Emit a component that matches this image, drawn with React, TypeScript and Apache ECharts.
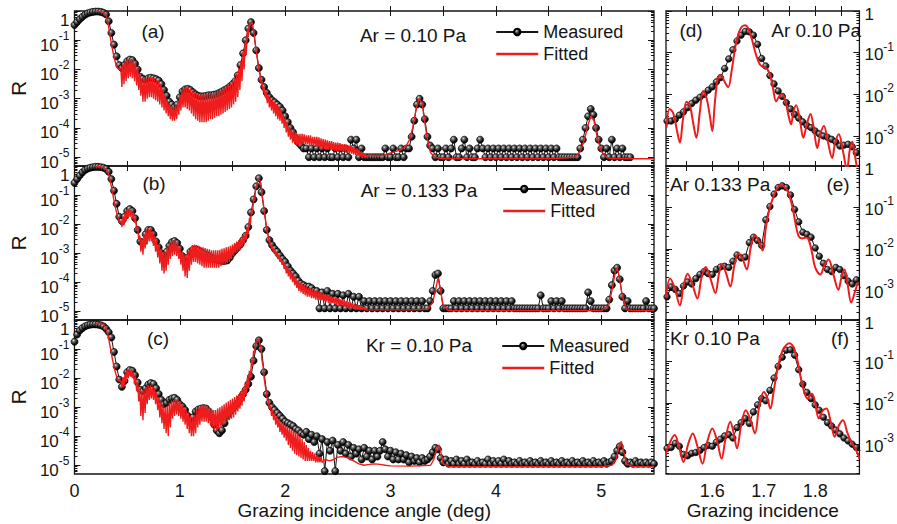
import React, { useEffect, useRef } from "react";
import * as echarts from "echarts";

const FONT = '"Liberation Sans", Arial, Helvetica, sans-serif';
const INK = "#151515";
const RED = "#ee1c1c";

// ---------- axis ranges (log10 R) ----------
const LEFT_X_RANGE = [0, 5.5];
const RIGHT_X_RANGE = [1.51, 1.886];
const LEFT_Y_RANGE = [-5.3, 0];
const RIGHT_Y_RANGE = [-3.72, 0];
const LEFT_X_TICKS = [0.5, 1, 1.5, 2, 2.5, 3, 3.5, 4, 4.5, 5];
const LEFT_X_LABELS = [0, 1, 2, 3, 4, 5];
const RIGHT_X_TICKS = [1.55, 1.6, 1.65, 1.7, 1.75, 1.8, 1.85];
const RIGHT_X_LABELS = [1.6, 1.7, 1.8];

// ---------- measured scans, panels (a)-(c): log10 R, x = 0, 0.025, 0.05 ... ----------
const SCAN_START = 0;
const SCAN_STEP = 0.025;

const measuredA = [
  -0.48, -0.38, -0.28, -0.2, -0.13, -0.08, -0.05, -0.03, -0.02, -0.02,
  -0.03, -0.06, -0.12, -0.35, -0.75, -1.15, -1.55, -1.85, -1.95, -1.85,
  -1.72, -1.66, -1.68, -1.8, -2.0, -2.25, -2.32, -2.35, -2.3, -2.28,
  -2.3, -2.33, -2.38, -2.5, -2.7, -2.9, -3.1, -3.2, -3.28, -3.2,
  -2.95, -2.75, -2.68, -2.66, -2.7, -2.78, -2.85, -2.9, -2.92, -2.92,
  -2.9, -2.88, -2.88, -2.86, -2.84, -2.8, -2.75, -2.7, -2.65, -2.58,
  -2.5, -2.4, -2.2, -1.85, -1.45, -1.0, -0.6, -0.38, -0.75, -1.35,
  -1.95, -2.35, -2.6, -2.8, -2.95, -3.05, -3.12, -3.2, -3.28, -3.4,
  -3.6, -3.8, -4.0, -4.15, -4.35, -4.5, -4.6, -4.7, -4.7, -5.0,
  -4.7, -5.0, -4.7, -5.0, -4.7, -5.0, -4.7, -5.0, -5.0, -4.7,
  -5.0, -4.7, -5.0, -4.7, -5.0, -4.4, -4.7, -4.4, -5.0, -4.7,
  -5.0, -5.0, -5.0, -5.0, -5.0, -5.0, -5.0, -5.0, -4.7, -5.0,
  -5.0, -4.7, -5.0, -5.0, -4.7, -5.0, -4.7, -4.7, -4.3, -3.75,
  -3.2, -3.0, -3.2, -3.7, -4.3, -4.6, -4.7, -5.0, -4.7, -5.0,
  -5.0, -4.7, -5.0, -4.7, -4.4, -5.0, -5.0, -4.7, -4.4, -5.0,
  -4.7, -5.0, -5.0, -4.7, -4.4, -4.7, -5.0, -4.7, -5.0, -4.7,
  -5.0, -4.7, -5.0, -4.7, -5.0, -4.7, -5.0, -4.7, -5.0, -4.7,
  -5.0, -4.7, -5.0, -4.7, -5.0, -4.7, -5.0, -4.7, -5.0, -4.7,
  -5.0, -4.7, -5.0, -4.7, -5.0, -5.0, -5.0, -5.0, -5.0, -5.0,
  -5.0, -5.0, -4.7, -4.4, -4.0, -3.6, -3.35, -3.55, -4.0, -4.4,
  -4.7, -5.0, -4.7, -5.0, -4.4, -5.0, -4.7, -5.0, -4.7, -5.0,
  -5.0, -5.0,
];

const measuredB = [
  -0.58, -0.45, -0.33, -0.22, -0.14, -0.09, -0.06, -0.04, -0.03, -0.03,
  -0.04, -0.06, -0.1, -0.2, -0.45, -0.85, -1.3, -1.75, -1.9, -1.75,
  -1.55, -1.48, -1.55, -1.8, -2.2, -2.6, -2.65, -2.35, -2.2, -2.2,
  -2.35, -2.6, -2.8, -3.0, -3.05, -2.95, -2.75, -2.62, -2.58, -2.65,
  -2.85, -3.1, -3.2, -3.15, -2.95, -2.88, -2.87, -2.9, -2.95, -3.0,
  -3.05, -3.1, -3.15, -3.2, -3.22, -3.25, -3.27, -3.27, -3.25, -3.15,
  -3.0, -2.9, -2.8, -2.7, -2.55, -2.4, -2.1, -1.6, -1.15, -0.7,
  -0.42, -0.9, -1.55, -2.2, -2.55, -2.72, -2.85, -2.95, -3.08, -3.2,
  -3.3, -3.45, -3.6, -3.7, -3.8, -3.95, -4.05, -4.1, -4.15, -4.15,
  -4.2, -4.3, -4.3, -4.9, -4.35, -4.9, -4.3, -4.9, -4.4, -4.9,
  -4.4, -4.9, -4.45, -4.9, -4.4, -4.9, -4.5, -4.9, -4.5, -4.9,
  -4.65, -4.9, -4.65, -4.9, -4.65, -4.9, -4.65, -4.9, -4.65, -4.9,
  -4.65, -4.9, -4.65, -4.9, -4.65, -4.9, -4.65, -4.9, -4.65, -4.9,
  -4.65, -4.9, -4.65, -4.9, -4.9, -4.65, -4.3, -3.75, -3.7, -4.3,
  -4.9, -4.9, -4.9, -4.9, -4.65, -4.9, -4.65, -4.9, -4.65, -4.9,
  -4.65, -4.9, -4.65, -4.9, -4.65, -4.9, -4.65, -4.9, -4.65, -4.9,
  -4.65, -4.9, -4.65, -4.9, -4.65, -4.9, -4.65, -4.9, -4.9, -4.9,
  -4.9, -4.9, -4.9, -4.9, -4.9, -4.9, -4.9, -4.45, -4.9, -4.9,
  -4.9, -4.65, -4.9, -4.65, -4.9, -4.65, -4.9, -4.9, -4.9, -4.9,
  -4.9, -4.9, -4.9, -4.9, -4.9, -4.35, -4.65, -4.9, -4.9, -4.9,
  -4.9, -4.9, -4.9, -4.6, -4.1, -3.6, -3.5, -3.9, -4.5, -4.9,
  -4.65, -4.9, -4.9, -4.9, -4.9, -4.9, -4.9, -4.65, -4.9, -4.9,
  -4.9,
];

const measuredC = [
  -0.75, -0.5, -0.36, -0.28, -0.22, -0.18, -0.16, -0.15, -0.15, -0.16,
  -0.18, -0.22, -0.3, -0.42, -0.6, -1.1, -1.6, -2.05, -2.3, -2.1,
  -1.8, -1.72, -1.75, -1.9, -2.15, -2.4, -2.45, -2.35, -2.22, -2.17,
  -2.2, -2.35, -2.55, -2.75, -2.9, -2.85, -2.75, -2.7, -2.68, -2.75,
  -2.9, -2.98, -3.1, -3.3, -3.44, -3.35, -3.15, -3.08, -3.05, -3.03,
  -3.05, -3.15, -3.35, -3.6, -3.8, -3.9, -3.8, -3.55, -3.3, -3.15,
  -3.05, -2.95, -2.85, -2.7, -2.55, -2.4, -2.2, -1.95, -1.4, -0.9,
  -0.7, -1.0, -1.8, -2.55, -2.85, -3.0, -3.1, -3.2, -3.3, -3.4,
  -3.5, -3.55, -3.6, -3.65, -3.75, -3.8, -3.9, -3.95, -3.85, -4.1,
  -3.95, -4.2, -4.0, -4.6, -4.1, -5.2, -4.2, -4.5, -4.15, -5.2,
  -4.3, -4.5, -4.2, -4.6, -4.3, -4.7, -4.4, -4.6, -4.45, -4.8,
  -4.4, -4.7, -4.5, -4.8, -4.5, -4.7, -4.5, -4.2, -4.45, -4.7,
  -4.5, -4.8, -4.55, -4.8, -4.6, -4.8, -4.65, -4.9, -4.7, -4.85,
  -4.75, -4.9, -4.75, -4.85, -4.8, -4.7, -4.55, -4.4, -4.45, -4.75,
  -4.9, -4.8, -4.95, -4.85, -4.95, -4.8, -4.95, -4.85, -4.95, -4.8,
  -4.95, -4.9, -4.95, -4.85, -4.95, -4.9, -4.95, -4.8, -4.95, -4.85,
  -4.95, -4.85, -4.95, -4.8, -4.95, -4.85, -4.95, -4.9, -4.95, -4.85,
  -4.95, -4.9, -4.95, -4.85, -4.95, -4.9, -4.95, -4.85, -4.95, -4.9,
  -4.95, -4.85, -4.95, -4.9, -4.95, -4.85, -4.95, -4.9, -4.95, -4.85,
  -4.95, -4.9, -4.95, -4.85, -4.95, -4.9, -4.95, -4.85, -4.95, -4.9,
  -4.95, -4.85, -4.95, -4.9, -4.85, -4.7, -4.5, -4.35, -4.55, -4.85,
  -4.95, -4.9, -4.95, -4.85, -4.95, -4.9, -4.95, -4.9, -4.95, -4.9,
  -4.95,
];

// ---------- fitted curves, panels (a)-(c) ----------
// smooth head of the curve [x, log10 R]
const fitHeadA = [[0.2, -0.01], [0.25, -0.01], [0.28, -0.05], [0.3, -0.15], [0.32, -0.45], [0.34, -0.9], [0.36, -1.3], [0.38, -1.65], [0.4, -1.9], [0.42, -2.0]];
const fitHeadB = [[0.2, -0.02], [0.25, -0.02], [0.28, -0.05], [0.31, -0.15], [0.33, -0.35], [0.35, -0.7], [0.37, -1.1], [0.39, -1.45], [0.41, -1.75], [0.43, -1.95]];
const fitHeadC = [[0.2, -0.12], [0.25, -0.12], [0.28, -0.18], [0.3, -0.3], [0.32, -0.55], [0.34, -0.95], [0.36, -1.35], [0.38, -1.7], [0.4, -1.95], [0.42, -2.1]];

// fringe maxima at x = 0.44 + 0.02 i and minima at x = 0.45 + 0.02 i
const FRINGE_START = 0.44;
const FRINGE_STEP = 0.02;

const fitMaxA = [
  -1.95, -1.8, -1.72, -1.66, -1.63, -1.63, -1.68, -1.8, -1.95, -2.15,
  -2.3, -2.32, -2.3, -2.27, -2.25, -2.27, -2.3, -2.35, -2.4, -2.5,
  -2.65, -2.85, -3.0, -3.15, -3.25, -3.3, -3.25, -3.05, -2.85, -2.7,
  -2.62, -2.6, -2.62, -2.66, -2.72, -2.78, -2.82, -2.85, -2.86, -2.86,
  -2.85, -2.84, -2.83, -2.82, -2.8, -2.78, -2.75, -2.72, -2.68, -2.63,
  -2.58, -2.52, -2.46, -2.4, -2.3, -2.15, -1.95, -1.7, -1.4, -1.05,
  -0.65, -0.4, -0.38, -0.7, -1.25, -1.75, -2.15, -2.4, -2.6, -2.75,
  -2.88, -2.98, -3.05, -3.1, -3.18, -3.26, -3.35, -3.5, -3.65, -3.8,
  -3.95, -4.05, -4.1, -4.15, -4.2, -4.2, -4.2, -4.22, -4.25, -4.25,
  -4.25, -4.3, -4.3, -4.3, -4.32, -4.35, -4.38, -4.4, -4.42, -4.45,
  -4.45, -4.48, -4.5, -4.5, -4.52, -4.55, -4.55, -4.58, -4.6, -4.62,
  -4.65, -4.68, -4.7, -4.75, -4.8, -4.85, -4.88,
];
const fitMinA = [
  -2.6, -2.5, -2.4, -2.3, -2.25, -2.3, -2.4, -2.55, -2.7, -2.9,
  -3.1, -3.1, -3.0, -2.95, -2.95, -3.0, -3.05, -3.1, -3.2, -3.3,
  -3.4, -3.5, -3.6, -3.7, -3.75, -3.75, -3.7, -3.55, -3.4, -3.3,
  -3.3, -3.35, -3.4, -3.5, -3.6, -3.7, -3.75, -3.8, -3.8, -3.8,
  -3.8, -3.75, -3.7, -3.7, -3.65, -3.6, -3.6, -3.55, -3.5, -3.45,
  -3.4, -3.35, -3.3, -3.2, -3.1, -2.95, -2.7, -2.4, -2.0, -1.5,
  -0.9, -0.5, -0.45, -0.9, -1.5, -2.05, -2.45, -2.75, -2.95, -3.15,
  -3.3, -3.4, -3.5, -3.6, -3.7, -3.75, -3.85, -4.0, -4.15, -4.3,
  -4.4, -4.5, -4.55, -4.6, -4.6, -4.6, -4.55, -4.55, -4.55, -4.6,
  -4.6, -4.6, -4.65, -4.65, -4.7, -4.7, -4.72, -4.72, -4.75, -4.75,
  -4.75, -4.78, -4.8, -4.8, -4.8, -4.82, -4.82, -4.85, -4.85, -4.88,
  -4.9, -4.92, -4.95, -4.97, -5.0, -5.0, -5.0,
];
const fitMaxB = [
  -1.9, -1.75, -1.6, -1.5, -1.47, -1.5, -1.6, -1.8, -2.1, -2.4,
  -2.5, -2.35, -2.2, -2.15, -2.15, -2.25, -2.4, -2.55, -2.7, -2.85,
  -2.95, -2.95, -2.8, -2.65, -2.57, -2.55, -2.57, -2.65, -2.8, -2.95,
  -3.05, -3.05, -2.95, -2.8, -2.72, -2.7, -2.72, -2.75, -2.78, -2.8,
  -2.82, -2.85, -2.87, -2.9, -2.9, -2.9, -2.9, -2.88, -2.85, -2.83,
  -2.8, -2.78, -2.75, -2.7, -2.65, -2.6, -2.55, -2.5, -2.4, -2.3,
  -2.1, -1.8, -1.5, -1.1, -0.7, -0.45, -0.5, -1.0, -1.55, -2.05,
  -2.4, -2.6, -2.75, -2.85, -2.95, -3.05, -3.15, -3.25, -3.35, -3.45,
  -3.55, -3.65, -3.75, -3.85, -3.95, -4.0, -4.05, -4.1, -4.15, -4.2,
  -4.22, -4.25, -4.28, -4.3, -4.32, -4.35, -4.38, -4.4, -4.42, -4.45,
  -4.48, -4.5, -4.52, -4.55, -4.58, -4.6, -4.62, -4.65, -4.68, -4.7,
  -4.72, -4.75, -4.78, -4.8, -4.82, -4.85, -4.87,
];
const fitMinB = [
  -2.1, -2.05, -1.9, -1.8, -1.75, -1.8, -1.95, -2.2, -2.55, -2.95,
  -3.05, -2.85, -2.7, -2.6, -2.6, -2.75, -2.95, -3.15, -3.35, -3.6,
  -3.7, -3.6, -3.4, -3.2, -3.1, -3.05, -3.1, -3.2, -3.4, -3.6,
  -3.8, -3.85, -3.6, -3.4, -3.3, -3.3, -3.35, -3.4, -3.45, -3.5,
  -3.5, -3.5, -3.5, -3.5, -3.5, -3.5, -3.5, -3.45, -3.4, -3.4,
  -3.35, -3.3, -3.2, -3.1, -3.0, -2.95, -2.9, -2.8, -2.7, -2.55,
  -2.35, -2.0, -1.65, -1.2, -0.75, -0.48, -0.6, -1.2, -1.75, -2.3,
  -2.65, -2.85, -3.0, -3.1, -3.2, -3.3, -3.4, -3.55, -3.7, -3.8,
  -3.9, -4.0, -4.1, -4.2, -4.3, -4.35, -4.4, -4.45, -4.5, -4.5,
  -4.55, -4.55, -4.6, -4.6, -4.62, -4.62, -4.65, -4.65, -4.7, -4.7,
  -4.72, -4.75, -4.78, -4.8, -4.8, -4.82, -4.85, -4.88, -4.9, -4.9,
  -4.92, -4.93, -4.95, -4.95, -4.95, -4.96, -4.96,
];
const fitMaxC = [
  -2.1, -2.0, -1.85, -1.72, -1.67, -1.7, -1.8, -1.95, -2.15, -2.35,
  -2.45, -2.4, -2.3, -2.25, -2.25, -2.28, -2.35, -2.5, -2.65, -2.8,
  -2.95, -3.0, -2.95, -2.85, -2.78, -2.75, -2.73, -2.75, -2.8, -2.9,
  -3.0, -3.1, -3.2, -3.3, -3.35, -3.25, -3.1, -3.0, -2.95, -2.93,
  -2.93, -2.95, -3.0, -3.05, -3.1, -3.1, -3.05, -3.0, -2.95, -2.9,
  -2.85, -2.8, -2.75, -2.7, -2.65, -2.6, -2.55, -2.45, -2.35, -2.2,
  -2.0, -1.75, -1.4, -1.05, -0.75, -0.65, -0.85, -1.4, -2.0, -2.45,
  -2.75, -2.95, -3.1, -3.2, -3.3, -3.4, -3.5, -3.55, -3.6, -3.65,
  -3.7, -3.75, -3.8, -3.85, -3.9, -4.0, -4.1, -4.2, -4.3, -4.4,
  -4.5, -4.55, -4.6, -4.65, -4.7, -4.7,
];
const fitMinC = [
  -2.3, -2.3, -2.15, -2.0, -1.95, -2.0, -2.2, -2.45, -2.8, -3.3,
  -3.45, -3.2, -2.9, -2.75, -2.7, -2.75, -2.9, -3.1, -3.35, -3.55,
  -3.75, -3.9, -4.0, -3.7, -3.4, -3.3, -3.25, -3.3, -3.4, -3.5,
  -3.6, -3.75, -3.9, -4.0, -4.0, -3.9, -3.7, -3.6, -3.5, -3.5,
  -3.5, -3.55, -3.6, -3.7, -3.75, -3.8, -3.75, -3.7, -3.6, -3.55,
  -3.5, -3.45, -3.4, -3.35, -3.25, -3.15, -3.05, -2.95, -2.8, -2.6,
  -2.35, -2.0, -1.6, -1.15, -0.8, -0.68, -0.95, -1.6, -2.25, -2.75,
  -3.05, -3.3, -3.45, -3.6, -3.7, -3.85, -3.95, -4.05, -4.15, -4.3,
  -4.4, -4.5, -4.6, -4.65, -4.7, -4.75, -4.8, -4.85, -4.85, -4.85,
  -4.85, -4.85, -4.9, -4.9, -4.9, -4.9,
];

// smooth tail of the curve [x, log10 R]
const fitTailA = [[2.8, -4.92], [2.85, -4.95], [2.9, -4.95], [2.95, -4.92], [3.0, -4.85], [3.05, -4.8], [3.1, -4.75], [3.15, -4.6], [3.18, -4.4], [3.21, -4.0], [3.24, -3.4], [3.27, -3.0], [3.3, -3.15], [3.32, -3.7], [3.35, -4.4], [3.38, -4.85], [3.42, -5.0], [3.5, -5.05], [4.0, -5.05], [4.5, -5.05], [4.75, -5.0], [4.8, -4.8], [4.84, -4.4], [4.87, -3.95], [4.9, -3.6], [4.93, -3.75], [4.96, -4.3], [5.0, -4.8], [5.05, -5.0], [5.1, -5.05], [5.5, -5.05]];
const fitTailB = [[2.8, -4.95], [2.9, -4.95], [3.0, -4.95], [3.2, -4.95], [3.35, -4.93], [3.4, -4.7], [3.43, -4.2], [3.45, -3.85], [3.47, -4.2], [3.5, -4.8], [3.55, -4.98], [4.0, -4.98], [4.5, -4.98], [5.0, -4.98], [5.07, -4.8], [5.1, -4.3], [5.13, -3.7], [5.15, -3.5], [5.17, -3.8], [5.2, -4.5], [5.24, -4.95], [5.3, -4.98], [5.5, -4.98]];
const fitTailC = [[2.38, -4.8], [2.42, -4.85], [2.46, -4.8], [2.5, -4.72], [2.55, -4.7], [2.6, -4.75], [2.65, -4.85], [2.7, -4.95], [2.75, -5.0], [2.8, -4.97], [2.85, -4.95], [2.9, -4.97], [2.95, -5.0], [3.0, -5.02], [3.2, -5.03], [3.38, -5.0], [3.41, -4.8], [3.44, -4.4], [3.46, -4.3], [3.48, -4.6], [3.5, -4.95], [3.55, -5.05], [4.0, -5.05], [4.5, -5.05], [5.0, -5.05], [5.1, -5.0], [5.14, -4.8], [5.17, -4.3], [5.19, -4.18], [5.21, -4.5], [5.24, -4.95], [5.3, -5.05], [5.5, -5.05]];

// ---------- zoomed panels (d)-(f): measured at x = 1.512 + 0.008 i ----------
const ZOOM_START = 1.512;
const ZOOM_STEP = 0.008;
const measuredD = [
  -2.64, -2.64, -2.6, -2.5, -2.42, -2.32, -2.22, -2.14, -2.07, -2.0,
  -1.9, -1.82, -1.7, -1.6, -1.38, -1.15, -0.93, -0.72, -0.58, -0.49,
  -0.5, -0.58, -0.8, -1.14, -1.32, -1.55, -1.75, -1.92, -2.05, -2.2,
  -2.35, -2.48, -2.57, -2.66, -2.75, -2.8, -2.88, -2.95, -3.0, -3.03,
  -3.08, -3.14, -3.24, -3.22, -3.2, -3.26, -3.4, -3.5,
];
const measuredE = [
  -3.16, -2.92, -2.98, -3.08, -2.9, -2.8, -2.85, -2.72, -2.62, -2.55,
  -2.6, -2.62, -2.5, -2.44, -2.42, -2.45, -2.3, -2.15, -2.22, -2.2,
  -1.85, -1.72, -1.8, -1.92, -1.3, -0.98, -0.68, -0.52, -0.48, -0.52,
  -0.7, -1.05, -1.35, -1.6, -1.65, -1.72, -1.98, -2.18, -2.35, -2.5,
  -2.55, -2.45, -2.5, -2.65, -2.78, -2.85, -2.75, -2.95,
];
const measuredF = [
  -3.1, -3.08, -2.98, -3.05, -3.25, -3.28, -3.22, -3.2, -3.15, -3.08,
  -3.03, -3.05, -2.95, -2.88, -2.8, -2.77, -2.85, -2.6, -2.48, -2.38,
  -2.5, -2.22, -2.05, -1.9, -1.95, -1.7, -1.4, -1.12, -0.9, -0.73,
  -0.72, -0.85, -1.2, -1.55, -1.75, -1.9, -2.05, -2.18, -2.35, -2.48,
  -2.56, -2.66, -2.75, -2.85, -2.92, -3.0, -3.08, -3.15,
];

const fittedD = [[1.511, -2.8], [1.517, -2.35], [1.524, -2.45], [1.531, -2.85], [1.537, -3.16], [1.543, -2.6], [1.55, -2.18], [1.557, -2.3], [1.563, -2.7], [1.569, -3.04], [1.576, -2.4], [1.582, -1.92], [1.589, -2.1], [1.595, -2.5], [1.6, -2.88], [1.605, -2.2], [1.611, -1.6], [1.617, -1.55], [1.624, -1.7], [1.631, -1.83], [1.638, -1.4], [1.645, -0.85], [1.652, -0.5], [1.658, -0.37], [1.664, -0.34], [1.67, -0.42], [1.677, -0.68], [1.685, -1.05], [1.692, -1.27], [1.699, -1.35], [1.706, -1.38], [1.712, -1.52], [1.718, -1.85], [1.724, -2.17], [1.73, -2.05], [1.736, -2.0], [1.742, -2.15], [1.748, -2.5], [1.753, -2.72], [1.758, -2.4], [1.763, -2.26], [1.77, -2.6], [1.777, -3.04], [1.784, -2.7], [1.791, -2.47], [1.797, -2.8], [1.804, -3.29], [1.81, -2.95], [1.817, -2.76], [1.824, -3.1], [1.833, -3.53], [1.839, -3.15], [1.846, -2.96], [1.853, -3.3], [1.862, -3.8], [1.867, -3.35], [1.872, -3.14], [1.877, -3.45], [1.883, -3.9]];
const fittedE = [[1.51, -3.16], [1.518, -2.72], [1.527, -2.95], [1.537, -3.37], [1.544, -2.9], [1.552, -2.6], [1.561, -2.85], [1.571, -3.2], [1.579, -2.7], [1.587, -2.44], [1.596, -2.7], [1.606, -3.07], [1.613, -2.6], [1.619, -2.36], [1.627, -2.6], [1.635, -2.91], [1.643, -2.4], [1.651, -2.11], [1.659, -2.25], [1.667, -2.5], [1.675, -1.95], [1.683, -1.67], [1.69, -1.8], [1.698, -2.04], [1.704, -1.5], [1.711, -1.05], [1.72, -0.7], [1.727, -0.52], [1.733, -0.46], [1.74, -0.5], [1.747, -0.62], [1.756, -1.0], [1.762, -1.4], [1.768, -1.7], [1.775, -1.75], [1.781, -1.73], [1.787, -1.77], [1.794, -2.1], [1.8, -2.45], [1.81, -2.62], [1.818, -2.4], [1.826, -2.26], [1.835, -2.6], [1.845, -2.99], [1.851, -2.7], [1.857, -2.5], [1.863, -2.85], [1.87, -3.3], [1.877, -3.05], [1.883, -2.8]];
const fittedF = [[1.509, -3.27], [1.518, -2.95], [1.527, -2.78], [1.535, -3.05], [1.544, -3.43], [1.553, -3.0], [1.562, -2.74], [1.571, -3.05], [1.581, -3.47], [1.59, -2.95], [1.6, -2.62], [1.609, -2.9], [1.618, -3.35], [1.626, -2.85], [1.635, -2.46], [1.641, -2.7], [1.648, -3.1], [1.656, -2.55], [1.665, -2.18], [1.674, -2.4], [1.683, -2.74], [1.691, -2.1], [1.7, -1.74], [1.706, -1.85], [1.713, -2.14], [1.719, -1.75], [1.724, -1.37], [1.731, -0.95], [1.737, -0.72], [1.744, -0.6], [1.75, -0.56], [1.755, -0.6], [1.759, -0.68], [1.766, -1.0], [1.772, -1.4], [1.779, -1.75], [1.785, -1.9], [1.79, -1.8], [1.794, -1.78], [1.8, -2.0], [1.807, -2.38], [1.814, -2.2], [1.822, -2.14], [1.83, -2.45], [1.838, -2.82], [1.846, -2.55], [1.854, -2.42], [1.862, -2.7], [1.87, -2.95], [1.878, -3.1], [1.886, -3.35]];

// ---------- texts ----------
const panelTags = ["(a)", "(b)", "(c)", "(d)", "(e)", "(f)"];
const conditionsLeft = ["Ar = 0.10 Pa", "Ar = 0.133 Pa", "Kr = 0.10 Pa"];
const conditionsRight = ["Ar 0.10 Pa", "Ar 0.133 Pa", "Kr 0.10 Pa"];

// ---------- helpers ----------
const scanPairs = (vals: number[], start: number, step: number) =>
  vals.map((v, i) => [+(start + i * step).toFixed(4), v]);

const fitPairs = (head: number[][], maxs: number[], mins: number[], tail: number[][]) => {
  const out: number[][] = head.slice();
  const n = Math.min(maxs.length, mins.length);
  for (let i = 0; i < n; i++) {
    const x = FRINGE_START + i * FRINGE_STEP;
    out.push([+x.toFixed(4), maxs[i]]);
    out.push([+(x + FRINGE_STEP / 2).toFixed(4), mins[i]]);
  }
  return out.concat(tail);
};

const decadeTicks = (r: number[]) => {
  const t: number[] = [];
  for (let k = Math.ceil(r[0]); k <= Math.floor(r[1]); k++) t.push(k);
  return t;
};
const minorTicks = (r: number[]) => {
  const t: number[] = [];
  for (let k = Math.floor(r[0]); k < r[1]; k++) {
    for (let m = 2; m <= 9; m++) {
      const v = k + Math.log10(m);
      if (v > r[0] && v < r[1]) t.push(+v.toFixed(5));
    }
  }
  return t;
};

function sphere() {
  return new echarts.graphic.RadialGradient(0.36, 0.32, 0.7, [
    { offset: 0, color: "#dcdcdc" },
    { offset: 0.3, color: "#6a6a6a" },
    { offset: 0.7, color: "#161616" },
    { offset: 1, color: "#000000" },
  ]);
}

function buildOption() {
  const rows = [
    { top: 11, height: 155 },
    { top: 166, height: 154 },
    { top: 320, height: 154 },
  ];
  const grid: any[] = [];
  rows.forEach((r) => grid.push({ left: 68, width: 586, top: r.top, height: r.height, show: true, borderColor: INK, borderWidth: 1.3, backgroundColor: "transparent" }));
  rows.forEach((r) => grid.push({ left: 666, width: 197, top: r.top, height: r.height, show: true, borderColor: INK, borderWidth: 1.3, backgroundColor: "transparent" }));

  const tickLine = { color: INK, width: 1 };
  const xAxis: any[] = [];
  const yAxis: any[] = [];

  for (let g = 0; g < 6; g++) {
    const left = g < 3;
    const bottomRow = g === 2 || g === 5;
    const xr = left ? LEFT_X_RANGE : RIGHT_X_RANGE;
    const xBase = {
      type: "value",
      gridIndex: g,
      min: xr[0],
      max: xr[1],
      axisLine: { show: false },
      splitLine: { show: false },
      axisTick: { show: true, inside: true, length: 5, customValues: left ? LEFT_X_TICKS : RIGHT_X_TICKS, lineStyle: tickLine },
    };
    xAxis.push({
      ...xBase,
      position: "bottom",
      axisLabel: bottomRow
        ? {
            show: true,
            customValues: left ? LEFT_X_LABELS : RIGHT_X_LABELS,
            formatter: (v: number) => (left ? String(Math.round(v)) : v.toFixed(1)),
            fontSize: 18,
            fontFamily: FONT,
            color: INK,
            margin: 8,
          }
        : { show: false },
      name: bottomRow ? (left ? "Grazing incidence angle (deg)" : "Grazing incidence") : "",
      nameLocation: "middle",
      nameGap: 27,
      nameTextStyle: { fontSize: 19, fontFamily: FONT, color: INK },
    });
    xAxis.push({ ...xBase, position: "top", axisLabel: { show: false } });

    const yr = left ? LEFT_Y_RANGE : RIGHT_Y_RANGE;
    const major = decadeTicks(yr);
    const minor = minorTicks(yr);
    const labelSide = left ? "left" : "right";
    const otherSide = left ? "right" : "left";
    const yBase = {
      type: "value",
      gridIndex: g,
      min: yr[0],
      max: yr[1],
      axisLine: { show: false },
      splitLine: { show: false },
    };
    const rich = left
      ? {
          b: { fontSize: 17, fontFamily: FONT, color: INK, padding: [10, 0, 0, 0] },
          sup: { fontSize: 12, fontFamily: FONT, color: INK, padding: [0, 0, 8, 0] },
          one: { fontSize: 17, fontFamily: FONT, color: INK, padding: [18, 0, 0, 0] },
        }
      : {
          b: { fontSize: 17, fontFamily: FONT, color: INK, padding: [4, 0, 0, 0] },
          sup: { fontSize: 12, fontFamily: FONT, color: INK, padding: [0, 0, 12, 0] },
          one: { fontSize: 17, fontFamily: FONT, color: INK, padding: [6, 0, 0, 0] },
        };
    yAxis.push({
      ...yBase,
      position: labelSide,
      axisTick: { show: true, inside: true, length: 6, customValues: major, lineStyle: tickLine },
      axisLabel: {
        show: true,
        customValues: major,
        showMinLabel: true,
        showMaxLabel: true,
        margin: 5,
        fontSize: 17,
        fontFamily: FONT,
        color: INK,
        formatter: (v: number) => {
          const e = Math.round(v);
          return e === 0 ? "{one|1}" : "{b|10}{sup|" + e + "}";
        },
        rich,
      },
      name: left ? "R" : "",
      nameLocation: "middle",
      nameRotate: 90,
      nameGap: 35,
      nameTextStyle: { fontSize: 21, fontFamily: FONT, color: INK },
    });
    yAxis.push({ ...yBase, position: labelSide, axisTick: { show: true, inside: true, length: 3, customValues: minor, lineStyle: tickLine }, axisLabel: { show: false } });
    yAxis.push({ ...yBase, position: otherSide, axisTick: { show: true, inside: true, length: 6, customValues: major, lineStyle: tickLine }, axisLabel: { show: false } });
    yAxis.push({ ...yBase, position: otherSide, axisTick: { show: true, inside: true, length: 3, customValues: minor, lineStyle: tickLine }, axisLabel: { show: false } });
  }

  const measured = (data: number[][], g: number, size: number) => ({
    type: "line",
    name: "Measured",
    xAxisIndex: 2 * g,
    yAxisIndex: 4 * g,
    data,
    symbol: "circle",
    symbolSize: size,
    showSymbol: true,
    lineStyle: { color: INK, width: 1 },
    itemStyle: { color: sphere(), borderColor: "#000", borderWidth: 0.7 },
    emphasis: { disabled: true },
    z: 2,
  });
  const fitted = (data: number[][], g: number, width: number, smooth: number | boolean) => ({
    type: "line",
    name: "Fitted",
    xAxisIndex: 2 * g,
    yAxisIndex: 4 * g,
    data,
    symbol: "none",
    smooth,
    lineStyle: { color: RED, width },
    itemStyle: { color: "rgba(0,0,0,0)", borderWidth: 0 },
    emphasis: { disabled: true },
    z: 3,
  });

  const series = [
    measured(scanPairs(measuredA, SCAN_START, SCAN_STEP), 0, 7),
    fitted(fitPairs(fitHeadA, fitMaxA, fitMinA, fitTailA), 0, 1.4, false),
    measured(scanPairs(measuredB, SCAN_START, SCAN_STEP), 1, 7),
    fitted(fitPairs(fitHeadB, fitMaxB, fitMinB, fitTailB), 1, 1.4, false),
    measured(scanPairs(measuredC, SCAN_START, SCAN_STEP), 2, 7),
    fitted(fitPairs(fitHeadC, fitMaxC, fitMinC, fitTailC), 2, 1.4, false),
    measured(scanPairs(measuredD, ZOOM_START, ZOOM_STEP), 3, 6.5),
    fitted(fittedD, 3, 2, 0.35),
    measured(scanPairs(measuredE, ZOOM_START, ZOOM_STEP), 4, 6.5),
    fitted(fittedE, 4, 2, 0.35),
    measured(scanPairs(measuredF, ZOOM_START, ZOOM_STEP), 5, 6.5),
    fitted(fittedF, 5, 2, 0.35),
  ];

  const legendPos = [
    { left: 490, top: 18 },
    { left: 497, top: 175 },
    { left: 496, top: 332 },
  ];
  const legend = legendPos.map((p) => ({
    left: p.left,
    top: p.top,
    orient: "vertical",
    itemWidth: 42,
    itemHeight: 8,
    itemGap: 4,
    selectedMode: false,
    textStyle: { fontSize: 18, fontFamily: FONT, color: INK },
    data: ["Measured", { name: "Fitted", lineStyle: { width: 2.5 } }],
  }));

  const txt = (text: string, x: number, y: number, align = "center") => ({
    type: "text",
    x,
    y,
    silent: true,
    style: {
      text,
      fontSize: 19,
      fontFamily: FONT,
      fill: INK,
      align,
      verticalAlign: "middle",
      textAlign: align,
      textVerticalAlign: "middle",
    },
  });
  const graphic = [
    txt(panelTags[0], 153, 31),
    txt(conditionsLeft[0], 413, 35),
    txt(panelTags[1], 154, 183),
    txt(conditionsLeft[1], 419, 190),
    txt(panelTags[2], 158, 338),
    txt(conditionsLeft[2], 419, 345),
    txt(panelTags[3], 691, 30),
    txt(conditionsRight[0], 861, 30, "right"),
    txt(conditionsRight[1], 670, 184, "left"),
    txt(panelTags[4], 838, 184),
    txt(conditionsRight[2], 670, 338, "left"),
    txt(panelTags[5], 840, 338),
  ];

  return {
    animation: false,
    backgroundColor: "#ffffff",
    textStyle: { fontFamily: FONT },
    grid,
    xAxis,
    yAxis,
    legend,
    series,
    graphic,
  };
}

export default function App() {
  const ref = useRef<HTMLDivElement>(null);
  useEffect(() => {
    if (!ref.current) return;
    const chart = echarts.init(ref.current, null, { renderer: "svg" });
    chart.setOption(buildOption() as any);
    return () => chart.dispose();
  }, []);
  return (
    <div
      ref={ref}
      style={{ position: "absolute", left: 0, top: 0, width: 897, height: 524, background: "#fff" }}
    />
  );
}
